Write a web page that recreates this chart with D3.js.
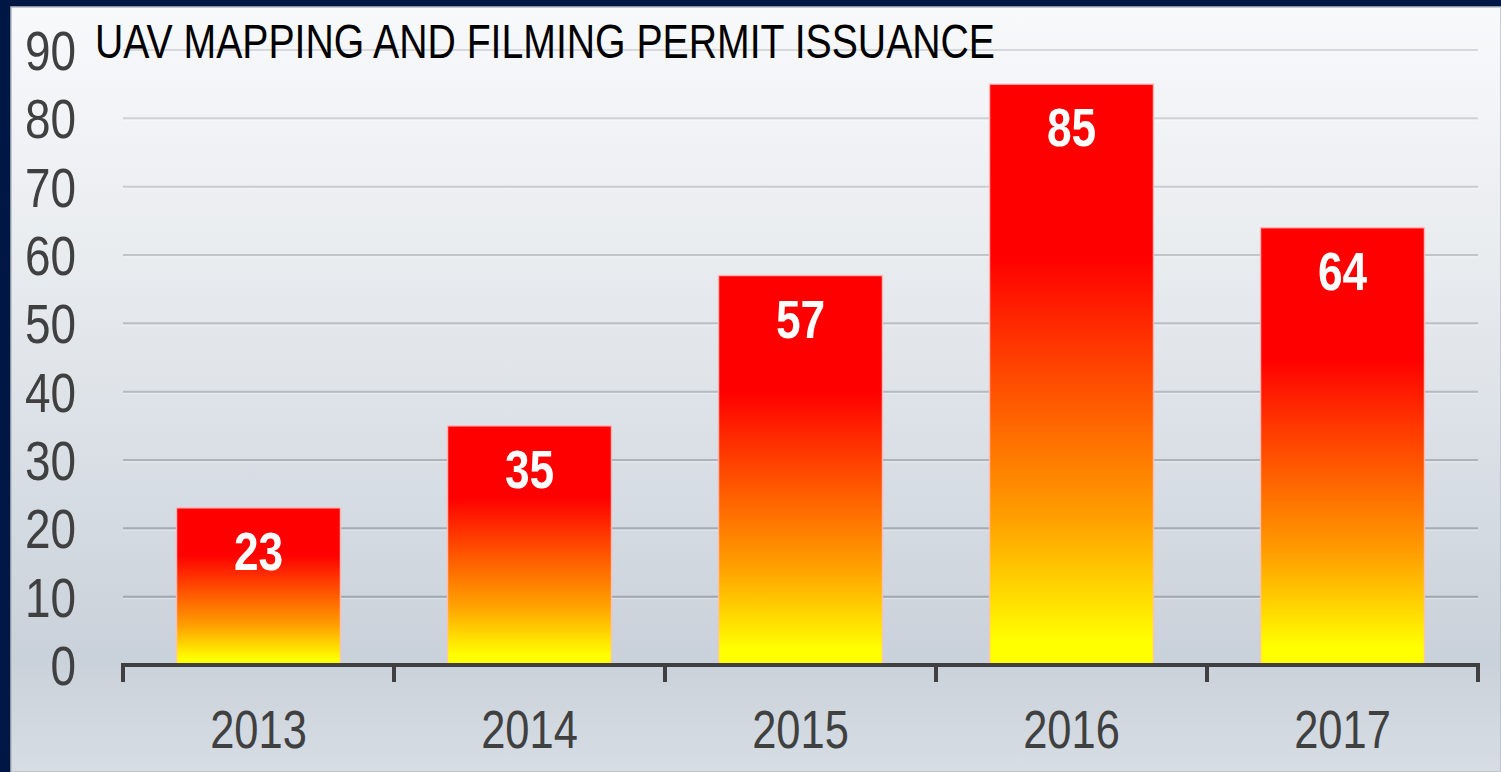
<!DOCTYPE html>
<html><head><meta charset="utf-8">
<script src="https://cdn.jsdelivr.net/npm/d3@7"></script>
<style>html,body{margin:0;padding:0;background:#001644;overflow:hidden}</style>
</head><body>
<svg id="c" width="1501" height="772"></svg>
<script>
const title = "UAV MAPPING AND FILMING PERMIT ISSUANCE";
const categories = ["2013", "2014", "2015", "2016", "2017"];
const values = [23, 35, 57, 85, 64];
const yTicks = [0, 10, 20, 30, 40, 50, 60, 70, 80, 90];

(function(){
const W = 1501, H = 772;
const svg = d3.select("#c");
const defs = svg.append("defs");
const font = "'Liberation Sans',Arial,sans-serif";
const SX = 0.82; // narrow face emulation

const bg = defs.append("linearGradient").attr("id","bg").attr("x1",0).attr("y1",0).attr("x2",0).attr("y2",1);
[[0,"#f8f9fb"],[0.3,"#eaedf0"],[0.55,"#dce1e7"],[0.85,"#c9d1da"],[1,"#d7dde3"]].forEach(([o,c])=>bg.append("stop").attr("offset",o).attr("stop-color",c));
svg.append("rect").attr("width",W).attr("height",H).attr("fill","#001644");
svg.append("rect").attr("x",11).attr("y",7).attr("width",W-11).attr("height",H-7).attr("fill","url(#bg)").attr("stroke","#b8bcc4").attr("stroke-width",1.5);

const barG = defs.append("linearGradient").attr("id","bar").attr("x1",0).attr("y1",0).attr("x2",0).attr("y2",1);
[[0,"#ff0000"],[0.3,"#ff0000"],[0.55,"#ff5a00"],[0.75,"#ffa000"],[0.96,"#ffff00"],[1,"#ffff00"]].forEach(([o,c])=>barG.append("stop").attr("offset",o).attr("stop-color",c));

const pL = 123, pR = 1478, pT = 50, pB = 665;
const x = d3.scaleBand().domain(categories).range([pL, pR]).padding(0);
const y = d3.scaleLinear().domain([0, 90]).range([pB, pT]);
const barW = x.bandwidth() * 0.605;
const gridCol = d3.scaleLinear().domain([pT, pB]).range(["#d6d8db", "#98a0a8"]);

const grid = svg.append("g");
grid.selectAll("line.hl").data(yTicks.filter(t=>t>0)).join("line").attr("class","hl")
  .attr("x1", pL).attr("x2", pR).attr("y1", d=>y(d)+2).attr("y2", d=>y(d)+2)
  .attr("stroke", "#ffffff").attr("stroke-opacity",0.35).attr("stroke-width", 1);
grid.selectAll("line.gl").data(yTicks.filter(t=>t>0)).join("line").attr("class","gl")
  .attr("x1", pL).attr("x2", pR).attr("y1", d=>y(d)).attr("y2", d=>y(d))
  .attr("stroke", d=>gridCol(y(d))).attr("stroke-width", 2);

svg.append("g").selectAll("text").data(yTicks).join("text")
  .attr("transform", d=>`translate(76,${y(d)+20}) scale(${SX},1)`)
  .attr("text-anchor","end").attr("font-family",font).attr("font-size",56)
  .attr("fill","#404040").text(d=>d);

svg.append("g").selectAll("rect").data(values).join("rect")
  .attr("x",(d,i)=>x(categories[i]) + (x.bandwidth()-barW)/2)
  .attr("y", d=>y(d)).attr("width", barW).attr("height", d=>y(0)-y(d))
  .attr("fill","url(#bar)").attr("stroke","rgba(255,190,190,0.85)").attr("stroke-width",1.5);

svg.append("g").selectAll("text").data(values).join("text")
  .attr("transform",(d,i)=>`translate(${x(categories[i]) + x.bandwidth()/2},${y(d)+62}) scale(${SX},1)`)
  .attr("text-anchor","middle").attr("font-family",font).attr("font-weight","bold")
  .attr("font-size",54).attr("fill","#fff").text(d=>d);

const ax = svg.append("g").attr("transform",`translate(0,${pB})`);
ax.append("line").attr("x1",pL-2).attr("x2",pR+2).attr("stroke","#404040").attr("stroke-width",4);
const bounds = categories.map(c=>x(c)).concat([pR]);
ax.selectAll("line.tk").data(bounds).join("line").attr("class","tk")
  .attr("x1",d=>d).attr("x2",d=>d).attr("y1",-2).attr("y2",17)
  .attr("stroke","#404040").attr("stroke-width",4);
ax.selectAll("text.xl").data(categories).join("text").attr("class","xl")
  .attr("transform",d=>`translate(${x(d)+x.bandwidth()/2},83) scale(${SX},1)`)
  .attr("text-anchor","middle").attr("font-family",font).attr("font-size",53)
  .attr("fill","#404040").text(d=>d);

svg.append("text").attr("x",95).attr("y",58).attr("font-family",font)
  .attr("font-size",48).attr("fill","#000")
  .attr("textLength",900).attr("lengthAdjust","spacingAndGlyphs").text(title);
})();
</script>
</body></html>
